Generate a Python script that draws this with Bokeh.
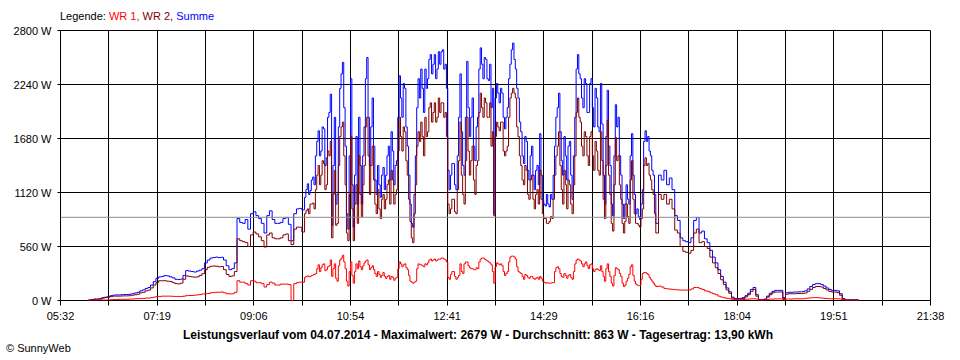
from bokeh.plotting import figure
from bokeh.models import Range1d, FixedTicker, Span, Div
from bokeh.layouts import column
from bokeh.embed import file_html
from bokeh.resources import INLINE

# ---------------- data ----------------
x_tick_labels = ["05:32", "07:19", "09:06", "10:54", "12:41", "14:29",
                 "16:16", "18:04", "19:51", "21:38"]
y_tick_values = [0, 560, 1120, 1680, 2240, 2800]
y_tick_labels = ["0 W", "560 W", "1120 W", "1680 W", "2240 W", "2800 W"]

# three sampling segments: (first sample time, minutes between samples)
seg_am = ("06:03", 3)
seg_mid = ("10:03", 1.5)
seg_pm = ("16:33", 3)

summe_am = [
    5, 10, 15, 15, 20, 30, 35, 40, 50, 55,
    58, 58, 60, 62, 62, 65, 70, 78, 85, 100,
    110, 125, 135, 160, 195, 230, 245, 250, 258, 255,
    245, 235, 220, 218, 222, 260, 310, 305, 300, 295,
    305, 315, 330, 390, 420, 440, 445, 450, 445, 448,
    420, 360, 320, 330, 390, 850, 810, 800, 840, 740,
    900, 920, 880, 850, 800, 700, 880, 930, 840, 800,
    800, 810, 850, 860, 790, 620, 900, 950, 955, 940,
]
summe_mid = [
    1070, 1150, 1210, 1100, 1140, 1250, 1280, 1200, 1500, 1650, 1760, 1500, 1550, 1800, 1780, 1400, 1480, 1900, 1950, 2140,
    780, 1400, 1900, 1000, 1100, 1800, 2200, 2350, 2470, 2000, 1600, 900, 740, 1500, 2300, 1200, 760, 1300, 1700, 1000,
    1900, 1400, 1000, 1500, 1800, 2300, 2520, 1900, 1400, 1800, 2100, 1600, 1250, 1100, 1400, 1200, 1070, 1300, 1380, 1150,
    1300, 1500, 1600, 1250, 1750, 1550, 1200, 1400, 1450, 1900, 2330, 2100, 1900, 2250, 2200, 1800, 1600, 1300, 1000, 800,
    760, 1100, 1500, 2000, 2300, 2100, 2400, 2200, 1950, 2400, 2200, 2300, 2500, 2550, 2350, 2450, 2550, 2300, 2400, 2580,
    2450, 2580, 2600, 2400, 2450, 2200, 1350, 1150, 1300, 1420, 1420, 1200, 1150, 1500, 1900, 2350, 1750, 1400, 1300, 1900,
    2480, 2000, 1700, 1900, 2100, 1600, 1450, 1800, 1900, 2400, 2620, 2450, 2300, 2520, 2500, 2300, 2280, 2450, 2000, 2200,
    900, 2100, 2250, 2150, 2050, 2200, 2150, 1900, 1780, 1900, 2000, 2300, 2450, 2600, 2670, 2500, 2400, 2200, 2100, 1850,
    1750, 1500, 1420, 1700, 1650, 1350, 1250, 1500, 1600, 1300, 1150, 1350, 1400, 1200, 1730, 1300, 1050, 1000, 980, 1100,
    1000, 970, 1100, 1050, 1300, 1600, 1900, 2000, 2150, 1750, 1450, 1300, 1700, 1500, 1250, 1600, 1650, 1300, 1050, 1500,
    1900, 2400, 2550, 2350, 2300, 2100, 2000, 2300, 2250, 1950, 1950, 2250, 2300, 2000, 1800, 2200, 2100, 1800, 1750, 2250,
    1830, 1300, 1000, 1700, 2180, 1600, 1400, 1000, 880, 1500, 2030, 1800, 1900, 1500, 1300, 1000, 850, 1000, 1200, 1050,
    1000, 1500, 1730, 1300, 1100, 900, 950, 870, 840, 1000, 1150, 1650, 1760, 1650, 1700, 1550, 1500, 1350, 1300, 1100,
]
summe_pm = [
    800, 1300, 1250, 1350, 1200, 1270, 1150, 880, 830, 650,
    620, 610, 600, 650, 830, 860, 700, 720, 640, 600,
    520, 450, 390, 320, 250, 190, 130, 90, 35, 20,
    20, 22, 30, 50, 75, 115, 135, 60, 10, 8,
    15, 45, 75, 95, 105, 105, 105, 30, 80, 85,
    85, 88, 88, 90, 92, 100, 120, 145, 165, 175,
    175, 165, 150, 130, 115, 105, 105, 100, 70, 20,
    8, 8, 8, 8, 8, 8,
]

wr2_am = [
    5, 8, 12, 12, 15, 25, 30, 35, 40, 45,
    45, 45, 47, 48, 48, 50, 55, 60, 65, 80,
    85, 100, 108, 130, 160, 185, 205, 205, 205, 200,
    198, 185, 175, 172, 180, 220, 255, 250, 245, 242,
    245, 260, 278, 320, 345, 355, 358, 355, 350, 352,
    320, 270, 250, 255, 300, 640, 620, 610, 600, 560,
    680, 710, 690, 660, 620, 555, 680, 700, 650, 640,
    640, 650, 680, 690, 620, 580, 740, 760, 760, 710,
]
wr2_mid = [
    900, 930, 950, 900, 1000, 1000, 1010, 950, 1150, 1300, 1400, 1200, 1300, 1450, 1420, 1150, 1200, 1550, 1500, 1650,
    650, 1100, 1350, 780, 800, 1400, 1700, 1800, 1850, 1500, 1200, 700, 620, 1100, 1700, 950, 620, 1000, 1200, 800,
    1500, 1100, 870, 1200, 1400, 1800, 1900, 1500, 1100, 1400, 1600, 1250, 1000, 900, 1150, 950, 850, 1050, 1100, 950,
    1050, 1200, 1250, 1000, 1350, 1250, 1000, 1100, 1150, 1550, 1900, 1700, 1550, 1800, 1750, 1450, 1300, 1050, 820, 650,
    600, 900, 1200, 1600, 1750, 1650, 1850, 1700, 1500, 1900, 1700, 1750, 2000, 2050, 1850, 1950, 2050, 1850, 1900, 2100,
    1950, 2050, 2050, 1900, 1950, 1700, 1000, 900, 950, 1050, 1050, 920, 900, 1150, 1450, 1850, 1300, 1100, 1000, 1450,
    1900, 1550, 1300, 1450, 1600, 1250, 1100, 1400, 1450, 1950, 2150, 2000, 1900, 2100, 2050, 1900, 1900, 2050, 1600, 1750,
    880, 1700, 1850, 1800, 1760, 1850, 1850, 1550, 1500, 1550, 1600, 1900, 2100, 2150, 2200, 2150, 2100, 1800, 1700, 1500,
    1400, 1250, 1200, 1400, 1350, 1100, 1050, 1250, 1300, 1050, 950, 1100, 1150, 1000, 1350, 1050, 900, 850, 850, 800,
    800, 820, 870, 850, 1050, 1300, 1500, 1600, 1750, 1400, 1150, 1000, 1350, 1200, 950, 1250, 1200, 1000, 900, 1200,
    1500, 1950, 2100, 1900, 1850, 1600, 1500, 1750, 1700, 1500, 1400, 1700, 1750, 1500, 1350, 1650, 1550, 1350, 1300, 1750,
    1450, 1050, 850, 1400, 1870, 1300, 1100, 800, 720, 1200, 1690, 1450, 1500, 1200, 1050, 800, 700, 820, 1000, 870,
    800, 1250, 1450, 1050, 900, 800, 800, 780, 760, 850, 950, 1400, 1480, 1400, 1420, 1300, 1250, 1150, 1100, 900,
]
wr2_pm = [
    700, 1100, 1050, 1100, 1000, 1050, 950, 730, 700, 560,
    510, 500, 490, 520, 700, 740, 600, 610, 560, 540,
    450, 390, 340, 280, 215, 165, 110, 75, 25, 15,
    12, 14, 20, 38, 60, 95, 115, 45, 5, 3,
    10, 35, 60, 80, 88, 88, 88, 20, 65, 70,
    70, 70, 72, 72, 74, 78, 95, 115, 135, 145,
    145, 140, 125, 110, 95, 88, 88, 82, 55, 12,
    4, 4, 4, 4, 4, 4,
]

wr1_am = [
    0, 2, 3, 3, 5, 5, 5, 5, 8, 10,
    10, 12, 12, 12, 12, 15, 15, 18, 20, 20,
    22, 25, 25, 30, 35, 40, 42, 45, 45, 45,
    45, 43, 42, 42, 42, 45, 50, 52, 52, 55,
    58, 62, 68, 70, 72, 80, 82, 85, 86, 88,
    80, 70, 68, 70, 85, 205, 190, 190, 175, 160,
    205, 200, 185, 185, 175, 140, 165, 190, 180, 160,
    160, 170, 170, 170, 165, 0, 175, 185, 190, 190,
]
wr1_mid = [
    240, 250, 255, 245, 250, 260, 265, 270, 280, 330, 370, 300, 340, 370, 380, 310, 320, 350, 360, 420,
    250, 330, 380, 230, 200, 360, 420, 440, 470, 400, 330, 200, 150, 300, 400, 260, 180, 300, 380, 330,
    410, 350, 320, 360, 390, 410, 420, 370, 320, 340, 360, 320, 280, 250, 300, 270, 240, 260, 290, 250,
    230, 250, 260, 220, 250, 240, 210, 230, 240, 330, 400, 380, 350, 370, 380, 340, 320, 260, 200, 190,
    180, 190, 200, 330, 380, 370, 370, 360, 350, 380, 370, 390, 420, 430, 410, 420, 430, 410, 420, 430,
    430, 440, 440, 430, 420, 400, 240, 220, 270, 300, 300, 250, 220, 240, 260, 380, 300, 280, 380, 400,
    400, 360, 340, 330, 330, 320, 320, 340, 330, 400, 430, 440, 440, 430, 420, 410, 400, 390, 370, 300,
    180, 350, 390, 380, 370, 380, 360, 300, 260, 280, 300, 400, 450, 460, 460, 450, 430, 350, 300, 290,
    280, 250, 220, 270, 260, 240, 230, 250, 250, 230, 220, 230, 240, 220, 250, 230, 200, 190, 180, 185,
    180, 180, 180, 185, 185, 300, 340, 350, 330, 280, 250, 240, 280, 260, 230, 260, 270, 240, 220, 300,
    380, 420, 430, 420, 410, 380, 350, 380, 400, 360, 330, 370, 380, 330, 300, 320, 330, 320, 310, 360,
    300, 250, 200, 330, 380, 300, 250, 180, 150, 260, 340, 330, 320, 280, 250, 180, 145, 160, 200, 230,
    270, 350, 370, 260, 200, 170, 160, 155, 155, 220, 280, 290, 290, 280, 270, 240, 220, 200, 180, 160,
]
wr1_pm = [
    145, 150, 140, 125, 120, 118, 115, 112, 110, 108,
    108, 108, 110, 120, 135, 135, 125, 115, 100, 95,
    80, 70, 60, 45, 35, 28, 22, 18, 12, 8,
    8, 8, 10, 12, 15, 18, 18, 15, 5, 5,
    5, 10, 15, 15, 17, 17, 17, 10, 15, 15,
    15, 18, 18, 18, 18, 22, 25, 28, 30, 30,
    28, 25, 22, 20, 18, 18, 18, 18, 15, 8,
    2, 2, 2, 2, 2, 0,
]

average_w = 863
title_text = ("Leistungsverlauf vom 04.07.2014 - Maximalwert: 2679 W - "
              "Durchschnitt: 863 W - Tagesertrag: 13,90 kWh")
legend_parts = [("Legende:", "#000000"), ("WR 1,", "#ff0000"),
                ("WR 2,", "#800000"), ("Summe", "#0000ff")]
copyright_text = "\u00a9 SunnyWeb"

# ---------------- helpers ----------------
def hm(s):
    h, m = s.split(":")
    return int(h) * 60 + int(m)

def seg_times(seg, n):
    start, step = seg
    return [hm(start) + step * i for i in range(n)]

times = (seg_times(seg_am, len(summe_am)) + seg_times(seg_mid, len(summe_mid))
         + seg_times(seg_pm, len(summe_pm)))
summe = summe_am + summe_mid + summe_pm
wr2 = wr2_am + wr2_mid + wr2_pm
wr1 = wr1_am + wr1_mid + wr1_pm

x_lo = hm(x_tick_labels[0])
x_hi = hm(x_tick_labels[-1])
n_div = 2 * (len(x_tick_labels) - 1)
grid_x = [x_lo + (x_hi - x_lo) * k / n_div for k in range(n_div + 1)]
x_overrides = {g: (x_tick_labels[k // 2] if k % 2 == 0 else "")
               for k, g in enumerate(grid_x)}
y_lo, y_hi = y_tick_values[0], y_tick_values[-1]

FONT = "Liberation Sans"
FW, FH = 870, 270
B_LEFT, B_RIGHT, B_TOP, B_BOTTOM = 60, 22, 6, 28
TOTAL_W = B_LEFT + FW + B_RIGHT
TOP_H, BOTTOM_H = 24, 30

p = figure(frame_width=FW, frame_height=FH,
           x_range=Range1d(x_lo, x_hi), y_range=Range1d(y_lo, y_hi),
           output_backend="svg", toolbar_location=None,
           min_border_left=B_LEFT, min_border_right=B_RIGHT,
           min_border_top=B_TOP, min_border_bottom=B_BOTTOM,
           background_fill_color="white", border_fill_color="white",
           margin=0)
p.outline_line_color = "black"
p.outline_line_width = 1

p.xaxis.ticker = FixedTicker(ticks=grid_x)
p.xaxis.major_label_overrides = x_overrides
p.xgrid.ticker = FixedTicker(ticks=grid_x)
p.yaxis.ticker = FixedTicker(ticks=y_tick_values)
p.yaxis.major_label_overrides = {v: l for v, l in zip(y_tick_values, y_tick_labels)}
p.ygrid.ticker = FixedTicker(ticks=y_tick_values)

for g in (p.xgrid, p.ygrid):
    g.grid_line_color = "black"
    g.grid_line_alpha = 1
    g.grid_line_width = 1

for ax in (p.xaxis, p.yaxis):
    ax.axis_line_color = None
    ax.major_tick_line_color = "black"
    ax.minor_tick_line_color = None
    ax.major_tick_in = 0
    ax.major_label_text_font = FONT
    ax.major_label_text_font_size = "11px"
    ax.major_label_text_color = "black"
p.xaxis.major_tick_out = 5
p.xaxis.major_label_standoff = 4
p.yaxis.major_tick_out = 3
p.yaxis.major_label_standoff = 6

# average line
p.add_layout(Span(location=average_w, dimension="width",
                  line_color="#8c8c8c", line_width=1))

# series
p.step(times, summe, mode="after", line_color="#0000ff", line_width=1)
p.step(times, wr2, mode="after", line_color="#800000", line_width=1)
p.step(times, wr1, mode="after", line_color="#ff0000", line_width=1)

# ---------------- texts around the chart ----------------
legend_html = " ".join(
    f'<span style="color:{c}">{t}</span>' for t, c in legend_parts)
top_div = Div(
    text=(f'<div style="position:relative;width:{TOTAL_W}px;height:{TOP_H}px;">'
          f'<div style="position:absolute;left:{B_LEFT}px;top:10px;'
          f"font-family:'{FONT}';font-size:11px;line-height:13px;"
          f'white-space:nowrap;">{legend_html}</div></div>'),
    width=TOTAL_W, height=TOP_H, margin=0)

bottom_div = Div(
    text=(f'<div style="position:relative;width:{TOTAL_W}px;height:{BOTTOM_H}px;'
          f"font-family:'{FONT}';font-size:11px;line-height:13px;\">"
          f'<div style="position:absolute;left:0px;top:1px;width:956px;'
          f'text-align:center;font-weight:bold;font-size:12px;white-space:nowrap;">'
          f'{title_text}</div>'
          f'<div style="position:absolute;left:6px;top:14px;white-space:nowrap;">'
          f'{copyright_text}</div></div>'),
    width=TOTAL_W, height=BOTTOM_H, margin=0)

layout = column(top_div, p, bottom_div, spacing=0, margin=0)

open("out.html", "w").write(file_html(layout, INLINE))
